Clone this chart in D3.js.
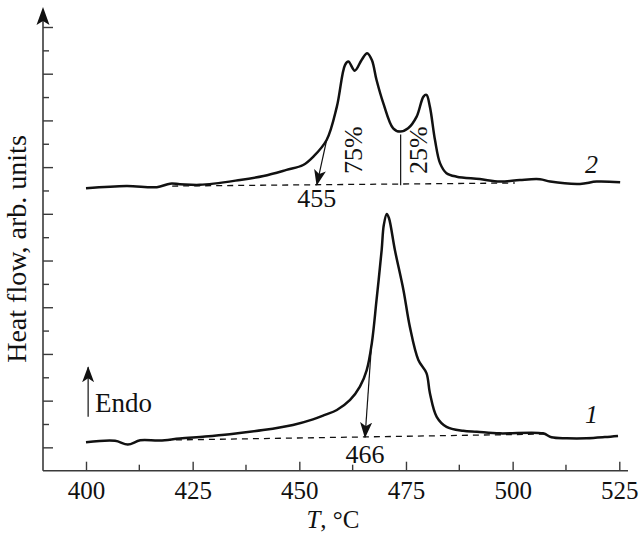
<!DOCTYPE html>
<html>
<head>
<meta charset="utf-8">
<script src="https://cdn.jsdelivr.net/npm/d3@7"></script>
<style>
  body { margin: 0; background: #fff; }
  svg text { font-family: "Liberation Serif", "Times New Roman", serif; fill: #111; }
</style>
</head>
<body>
<svg id="chart" width="641" height="535"></svg>
<script>
// temperature, C
const t1 = [400, 406.8, 409.8, 412.7, 417.3, 422.0, 427.9, 433.7, 441.5, 448.5, 453.2, 456.0, 458.8, 461.9, 464.2,
  465.8, 467.0, 468.1, 469.3, 469.8, 470.5, 471.0, 472.4, 474.4, 475.9, 477.9, 479.8, 480.6, 482.2, 484.5,
  488.4, 491.6, 497.0, 507.1, 509.1, 512.7, 517.3, 521.6, 524.7];
// heat flow, curve 1
const v1 = [1.22, 1.28, 1.12, 1.30, 1.29, 1.38, 1.46, 1.56, 1.74, 1.96, 2.20, 2.39, 2.60, 3.03, 3.60,
  4.31, 5.47, 7.31, 9.45, 10.52, 10.99, 10.82, 9.45, 7.74, 6.17, 4.74, 4.18, 3.33, 2.31, 1.88,
  1.71, 1.67, 1.60, 1.60, 1.43, 1.39, 1.39, 1.44, 1.49];

const t2 = [400, 409.5, 416.6, 419.7, 422.0, 426.7, 436.1, 441.6, 447.0, 450.9, 453.3, 456.4, 458.8, 460.7, 461.5,
  463.0, 464.6, 465.9, 467.0, 468.1, 469.7, 472.0, 473.6, 475.5, 477.5, 479.1, 479.8, 480.6, 481.8, 483.0,
  484.5, 486.9, 492.3, 497.0, 501.7, 506.4, 508.8, 515.8, 519.7, 525.2];
// heat flow, curve 2
const v2 = [12.09, 12.19, 12.14, 12.29, 12.27, 12.24, 12.45, 12.62, 12.88, 13.09, 13.45, 14.16, 15.59, 17.37, 17.52,
  17.13, 17.59, 17.88, 17.59, 16.73, 15.73, 14.66, 14.52, 14.66, 15.16, 16.02, 16.09, 15.59, 14.16, 13.16,
  12.74, 12.59, 12.49, 12.38, 12.45, 12.48, 12.38, 12.28, 12.38, 12.35];

// dashed baselines [T, value]
const base1 = [[418.5, 1.31], [507.6, 1.57]];
const base2 = [[420.2, 12.19], [500.5, 12.32]];

const xTicks = [400, 425, 450, 475, 500, 525];
const xMinor = [412.5, 437.5, 462.5, 487.5, 512.5];
const yTicks = d3.range(1, 20);

const svg = d3.select("#chart");
const x = d3.scaleLinear().domain([400, 525]).range([86, 619.3]);
const y = d3.scaleLinear().domain([0, 19]).range([470.7, 27]);
const axisCol = "#3a3a3a";

// x axis
const xAxis = svg.append("g").attr("transform", `translate(0,${y(0)})`)
  .call(d3.axisBottom(x).tickValues(xTicks).tickSizeInner(-9).tickSizeOuter(0).tickPadding(11).tickFormat(d3.format("d")));
xAxis.select(".domain").remove();
xAxis.selectAll(".tick line").attr("stroke", axisCol).attr("stroke-width", 1.4);
xAxis.selectAll("text").attr("font-size", 25).attr("font-family", "Liberation Serif").attr("fill", "#111");
xAxis.selectAll(".minor").data(xMinor).enter().append("line")
  .attr("x1", d => x(d)).attr("x2", d => x(d)).attr("y1", 0).attr("y2", -6)
  .attr("stroke", axisCol).attr("stroke-width", 1.4);
svg.append("line").attr("x1", 43).attr("x2", 628).attr("y1", y(0)).attr("y2", y(0))
  .attr("stroke", axisCol).attr("stroke-width", 1.6);

// y axis
const yAxis = svg.append("g").attr("transform", "translate(43,0)")
  .call(d3.axisRight(y).tickValues(yTicks).tickSizeOuter(0).tickFormat(""));
yAxis.select(".domain").remove();
yAxis.selectAll(".tick line").attr("x2", d => d % 2 ? 10 : 6).attr("stroke", axisCol).attr("stroke-width", 1.4);
svg.append("line").attr("x1", 43).attr("x2", 43).attr("y1", y(0)).attr("y2", 20)
  .attr("stroke", axisCol).attr("stroke-width", 1.6);
svg.append("path").attr("d", "M43,7 L49.5,25 L43,21 L36.5,25 Z").attr("fill", "#111");

// axis titles
svg.append("text").attr("x", 333).attr("y", 528).attr("text-anchor", "middle").attr("font-size", 25)
  .html('<tspan font-style="italic">T</tspan>, °C');
svg.append("text").attr("transform", "translate(26,249) rotate(-90)").attr("text-anchor", "middle")
  .attr("font-size", 28).text("Heat flow, arb. units");

// curves
const line = d3.line().x(d => x(d[0])).y(d => y(d[1])).curve(d3.curveCatmullRom.alpha(0.5));
[[t1, v1], [t2, v2]].forEach(([ts, vs]) => {
  svg.append("path").datum(ts.map((t, i) => [t, vs[i]])).attr("d", line)
    .attr("fill", "none").attr("stroke", "#111").attr("stroke-width", 2.5).attr("stroke-linejoin", "round");
});

const straight = d3.line().x(d => x(d[0])).y(d => y(d[1]));
[base1, base2].forEach(b => {
  svg.append("path").datum(b).attr("d", straight).attr("fill", "none")
    .attr("stroke", "#111").attr("stroke-width", 1.3).attr("stroke-dasharray", "6,5");
});

// arrows
svg.append("defs").append("marker").attr("id", "ah").attr("viewBox", "0 0 16 12")
  .attr("refX", 15).attr("refY", 6).attr("markerWidth", 16).attr("markerHeight", 12)
  .attr("markerUnits", "userSpaceOnUse").attr("orient", "auto")
  .append("path").attr("d", "M0,0 L16,6 L0,12 L4,6 Z").attr("fill", "#111");

function arrow(a, b) {
  svg.append("line").attr("x1", x(a[0])).attr("y1", y(a[1])).attr("x2", x(b[0])).attr("y2", y(b[1]))
    .attr("stroke", "#111").attr("stroke-width", 1.2).attr("marker-end", "url(#ah)");
}
arrow([456.4, 14.16], [454.1, 12.24]);
arrow([467.0, 5.6], [465.4, 1.43]);
arrow([400.5, 2.31], [400.5, 4.43]);

svg.append("line").attr("x1", x(473.75)).attr("x2", x(473.75)).attr("y1", y(14.4)).attr("y2", y(12.22))
  .attr("stroke", "#111").attr("stroke-width", 1.2);

function label(txt, t, v, size, opts = {}) {
  const el = svg.append("text").attr("font-size", size).attr("text-anchor", opts.anchor || "middle").text(txt);
  if (opts.rotate) {
    el.attr("transform", `translate(${x(t)},${y(v)}) rotate(-90)`).attr("dy", "0.35em");
  } else {
    el.attr("x", x(t)).attr("y", y(v));
  }
  if (opts.italic) el.attr("font-style", "italic");
  return el;
}
label("455", 454.1, 11.28, 26);
label("466", 465.4, 0.33, 26);
label("75%", 462.6, 13.73, 26, { rotate: true });
label("25%", 477.9, 13.73, 26, { rotate: true });
label("Endo", 402.1, 2.5, 27, { anchor: "start" });
label("2", 518.5, 12.75, 26, { italic: true });
label("1", 518.5, 2.04, 26, { italic: true });
</script>
</body>
</html>
